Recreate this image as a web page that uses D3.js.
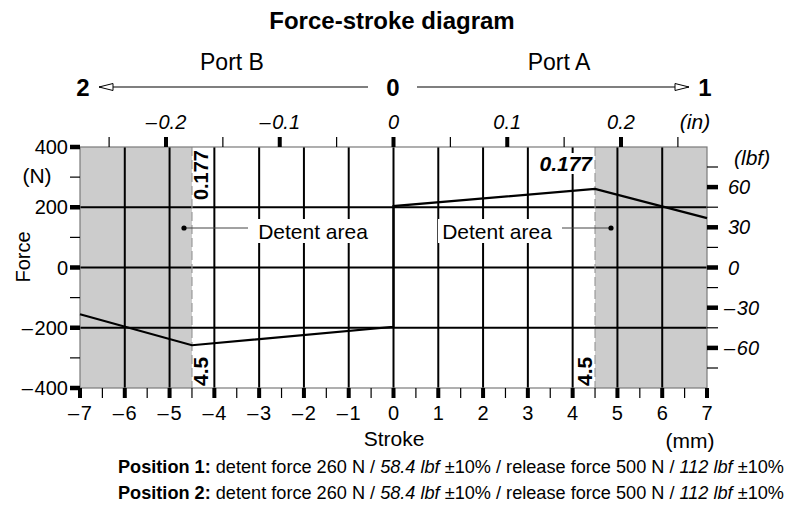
<!DOCTYPE html>
<html>
<head>
<meta charset="utf-8">
<script src="https://cdn.jsdelivr.net/npm/d3@7"></script>
<style>
  html, body { margin: 0; padding: 0; background: #fff; }
  svg { display: block; font-family: "Liberation Sans", Arial, sans-serif; }
</style>
</head>
<body>
<svg id="chart" width="790" height="510"></svg>
<script>
// Force-stroke curve (stroke in mm, force in N)
const strokeMm = [-7, -4.5, 0, 0, 4.5, 7];
const forceN   = [-155, -258, -197, 204, 261, 164];

// Axis ticks
const mmTicks       = [-7, -6, -5, -4, -3, -2, -1, 0, 1, 2, 3, 4, 5, 6, 7];
const mmMinorTicks  = [-6.5, -5.5, -4.5, -3.5, -2.5, -1.5, -0.5, 0.5, 1.5, 2.5, 3.5, 4.5, 5.5, 6.5];
const nTicks        = [-400, -200, 0, 200, 400];
const nMinorTicks   = [-300, -100, 100, 300];
const inTicks       = [-0.2, -0.1, 0, 0.1, 0.2];
const inTickLabels  = ["-0.2", "-0.1", "0", "0.1", "0.2"];
const inMinorTicks  = [-0.25, -0.15, -0.05, 0.05, 0.15, 0.25];
const lbfTicks      = [-60, -30, 0, 30, 60];
const lbfTickLabels = ["-60", "-30", "0", "30", "60"];
const lbfMinorTicks = [-75, -45, -15, 15, 45, 75];
const gridForce     = [-200, 0, 200];

// Detent zones (mm)
const detentZones = [[-7, -4.5], [4.5, 7]];
const detentEdge  = 4.5;

// Footer specification lines
const positions = ["Position 1:", "Position 2:"];
const specParts = [
  {t: " detent force 260 N / ", i: false},
  {t: "58.4 lbf", i: true},
  {t: " \u00b110% / release force 500 N / ", i: false},
  {t: "112 lbf", i: true},
  {t: " \u00b110%", i: false}
];

const MM_PER_IN = 25.4;
const N_PER_LBF = 4.44822;

const svg = d3.select("#chart");
const L = 80, R = 707, T = 147, B = 388;

const x = d3.scaleLinear().domain([-7, 7]).range([L, R]);
const y = d3.scaleLinear().domain([-400, 400]).range([B, T]);
const xIn = d3.scaleLinear().domain([-7 / MM_PER_IN, 7 / MM_PER_IN]).range([L, R]);
const yLbf = d3.scaleLinear().domain([-400 / N_PER_LBF, 400 / N_PER_LBF]).range([B, T]);

// Negative labels use a dash followed by a hair space
const dash = s => String(s).replace("-", "\u2013\u200a");
const fmtSigned = d => dash(d);

// Title
svg.append("text").attr("x", 392).attr("y", 28.5).attr("text-anchor", "middle")
  .attr("font-size", 24).attr("font-weight", "bold").text("Force-stroke diagram");

// Port direction header
const defs = svg.append("defs");
defs.append("marker").attr("id", "openArrow").attr("viewBox", "0 0 16 9")
  .attr("refX", 15).attr("refY", 4.5).attr("markerWidth", 16).attr("markerHeight", 9)
  .attr("markerUnits", "userSpaceOnUse").attr("orient", "auto")
  .append("path").attr("d", "M1,1 L15,4.5 L1,8 Z").attr("fill", "#fff").attr("stroke", "#000").attr("stroke-width", 1);

svg.append("line").attr("x1", 368).attr("y1", 87).attr("x2", 99).attr("y2", 87)
  .attr("stroke", "#000").attr("stroke-width", 1.2).attr("marker-end", "url(#openArrow)");
svg.append("line").attr("x1", 417).attr("y1", 87).attr("x2", 689).attr("y2", 87)
  .attr("stroke", "#000").attr("stroke-width", 1.2).attr("marker-end", "url(#openArrow)");

[["2", 83], ["0", 393], ["1", 705]].forEach(([t, px]) => {
  svg.append("text").attr("x", px).attr("y", 96).attr("text-anchor", "middle")
    .attr("font-size", 24).attr("font-weight", "bold").text(t);
});
svg.append("text").attr("x", 232).attr("y", 70).attr("text-anchor", "middle").attr("font-size", 23).text("Port B");
svg.append("text").attr("x", 559).attr("y", 70).attr("text-anchor", "middle").attr("font-size", 23).text("Port A");

// Shaded detent zones
svg.selectAll("rect.zone").data(detentZones).enter().append("rect")
  .attr("class", "zone")
  .attr("x", d => x(d[0])).attr("y", T)
  .attr("width", d => x(d[1]) - x(d[0])).attr("height", B - T)
  .attr("fill", "#cccccc");

// Vertical grid at each mm
svg.selectAll("line.vgrid").data(mmTicks.filter(v => v > -7 && v < 7)).enter().append("line")
  .attr("class", "vgrid")
  .attr("x1", d => x(d)).attr("x2", d => x(d)).attr("y1", T).attr("y2", B)
  .attr("stroke", "#000").attr("stroke-width", 2);

// Horizontal grid lines
svg.selectAll("line.hgrid").data(gridForce).enter().append("line")
  .attr("class", "hgrid")
  .attr("x1", L).attr("x2", R).attr("y1", d => y(d)).attr("y2", d => y(d))
  .attr("stroke", "#000").attr("stroke-width", 2);

// Dashed detent boundaries
[-detentEdge, detentEdge].forEach(v => {
  svg.append("line").attr("x1", x(v)).attr("x2", x(v)).attr("y1", T).attr("y2", B)
    .attr("stroke", "#999").attr("stroke-width", 1.2).attr("stroke-dasharray", "9,4");
});

// Plot frame
svg.append("rect").attr("x", L).attr("y", T).attr("width", R - L).attr("height", B - T)
  .attr("fill", "none").attr("stroke", "#7a7a7a").attr("stroke-width", 1.2);

// Force curve
const line = d3.line().x(d => x(d[0])).y(d => y(d[1]));
svg.append("path").datum(strokeMm.map((s, i) => [s, forceN[i]]))
  .attr("d", line).attr("fill", "none").attr("stroke", "#000").attr("stroke-width", 2.2)
  .attr("stroke-linejoin", "miter");

// Tick marks: thick for major values, thin for minor ones
function tickMarks(cls, data, make, width) {
  svg.selectAll("line." + cls).data(data).enter().append("line")
    .attr("class", cls).each(function(d) {
      const [x1, y1, x2, y2] = make(d);
      d3.select(this).attr("x1", x1).attr("y1", y1).attr("x2", x2).attr("y2", y2);
    })
    .attr("stroke", "#000").attr("stroke-width", width);
}

// Bottom axis (mm)
tickMarks("bmaj", mmTicks, d => [x(d), B, x(d), B + 10], 4);
tickMarks("bmin", mmMinorTicks, d => [x(d), B, x(d), B + 10], 1.2);
svg.selectAll("text.bl").data(mmTicks).enter().append("text")
  .attr("class", "bl").attr("x", d => x(d)).attr("y", 420).attr("text-anchor", "middle")
  .attr("font-size", 20).text(fmtSigned);
svg.append("text").attr("x", 394).attr("y", 445.5).attr("text-anchor", "middle").attr("font-size", 21).text("Stroke");
svg.append("text").attr("x", 690).attr("y", 447.5).attr("text-anchor", "middle").attr("font-size", 21).text("(mm)");

// Left axis (N)
tickMarks("lmaj", nTicks, d => [L - 10, y(d), L, y(d)], 4.5);
tickMarks("lmin", nMinorTicks, d => [L - 10, y(d), L, y(d)], 1.2);
svg.selectAll("text.ll").data(nTicks).enter().append("text")
  .attr("class", "ll").attr("x", 68).attr("y", d => y(d) + 7).attr("text-anchor", "end")
  .attr("font-size", 20).text(fmtSigned);
svg.append("text").attr("x", 37).attr("y", 182.5).attr("text-anchor", "middle").attr("font-size", 21).text("(N)");
svg.append("text").attr("transform", "translate(30,257) rotate(-90)").attr("text-anchor", "middle")
  .attr("font-size", 20).text("Force");

// Right axis (lbf)
tickMarks("rmaj", lbfTicks, d => [R, yLbf(d), R + 11, yLbf(d)], 4.5);
tickMarks("rmin", lbfMinorTicks, d => [R, yLbf(d), R + 11, yLbf(d)], 1.2);
svg.selectAll("text.rl").data(lbfTicks).enter().append("text")
  .attr("class", "rl").attr("x", d => d < 0 ? 724 : 728).attr("y", d => yLbf(d) + 7).attr("text-anchor", "start")
  .attr("font-size", 20).attr("font-style", "italic").text((d, i) => dash(lbfTickLabels[i]));
svg.append("text").attr("x", 734).attr("y", 164.5).attr("text-anchor", "start").attr("font-size", 21)
  .attr("font-style", "italic").text("(lbf)");

// Top axis (in)
tickMarks("tmaj", inTicks, d => [xIn(d), T - 10, xIn(d), T], 4);
tickMarks("tmin", inMinorTicks, d => [xIn(d), T - 10, xIn(d), T], 1.2);
svg.selectAll("text.tl").data(inTicks).enter().append("text")
  .attr("class", "tl").attr("x", d => xIn(d)).attr("y", 129).attr("text-anchor", "middle")
  .attr("font-size", 20).attr("font-style", "italic").text((d, i) => dash(inTickLabels[i]));
svg.append("text").attr("x", 695).attr("y", 129).attr("text-anchor", "middle").attr("font-size", 21)
  .attr("font-style", "italic").text("(in)");

// Detent dimension labels
const xl = x(-detentEdge), xr = x(detentEdge);
svg.append("text").attr("transform", `translate(${xl + 16},${T + 3}) rotate(-90)`).attr("text-anchor", "end")
  .attr("font-size", 20).attr("font-weight", "bold").text("0.177");
svg.append("text").attr("transform", `translate(${xl + 16},${B - 2}) rotate(-90)`).attr("text-anchor", "start")
  .attr("font-size", 21).attr("font-weight", "bold").text("4.5");
svg.append("text").attr("transform", `translate(${xr - 3},${B - 2}) rotate(-90)`).attr("text-anchor", "start")
  .attr("font-size", 21).attr("font-weight", "bold").text("4.5");
svg.append("rect").attr("x", xr - 58).attr("y", 153).attr("width", 56).attr("height", 21).attr("fill", "#fff");
svg.append("text").attr("x", xr - 3).attr("y", 170.5).attr("text-anchor", "end").attr("font-size", 21)
  .attr("font-weight", "bold").attr("font-style", "italic").text("0.177");

// "Detent area" callouts
const calloutY = 231;
[[313, 184, 248], [497, 611, 562]].forEach(([tx, dotX, endX]) => {
  svg.append("rect").attr("x", tx - 59).attr("y", calloutY - 12).attr("width", 118).attr("height", 24).attr("fill", "#fff");
  svg.append("text").attr("x", tx).attr("y", calloutY + 7.5).attr("text-anchor", "middle").attr("font-size", 21).text("Detent area");
  svg.append("line").attr("x1", dotX).attr("x2", endX).attr("y1", calloutY - 3).attr("y2", calloutY - 3)
    .attr("stroke", "#444").attr("stroke-width", 1);
  svg.append("circle").attr("cx", dotX).attr("cy", calloutY - 3).attr("r", 2.6).attr("fill", "#000");
});

// Footer lines
positions.forEach((p, k) => {
  const t = svg.append("text").attr("x", 118).attr("y", 472.5 + k * 26).attr("font-size", 18.15);
  t.append("tspan").attr("font-weight", "bold").text(p);
  specParts.forEach(s => t.append("tspan").attr("font-style", s.i ? "italic" : "normal").text(s.t));
});
</script>
</body>
</html>
